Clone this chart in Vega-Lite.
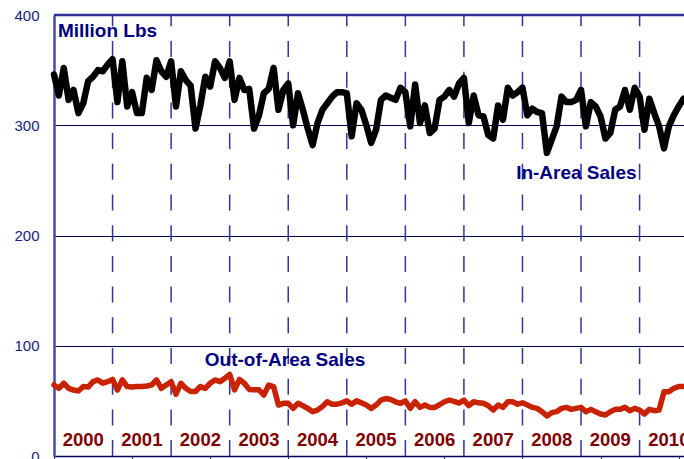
{
  "$schema": "https://vega.github.io/schema/vega-lite/v6.json",
  "autosize": {"type": "none"},
  "padding": {"left": 54, "top": 15, "right": 0, "bottom": 3},
  "width": 630,
  "height": 441,
  "background": "white",
  "config": {
    "view": {"stroke": null},
    "font": "Liberation Sans",
    "axisY": {
      "grid": true,
      "gridColor": "#000050",
      "gridWidth": 1.2,
      "domain": true,
      "domainColor": "#4a4aa8",
      "domainWidth": 2.5,
      "ticks": false,
      "labelPadding": 15,
      "labelFont": "Liberation Sans",
      "labelFontSize": 15,
      "labelColor": "#1a1a80",
      "title": null
    },
    "axisX": {
      "grid": false,
      "labels": false,
      "ticks": true,
      "tickSize": 4,
      "tickColor": "#333355",
      "tickWidth": 1,
      "domain": true,
      "domainColor": "#000060",
      "domainWidth": 1.5,
      "title": null
    }
  },
  "datasets": {
    "sales": [
      {"m":0,"inArea":346,"outArea":64.4},{"m":1,"inArea":327,"outArea":61.4},{"m":2,"inArea":352,"outArea":66},{"m":3,"inArea":323,"outArea":61.4},{"m":4,"inArea":332,"outArea":59.8},{"m":5,"inArea":311,"outArea":59},{"m":6,"inArea":320,"outArea":63},{"m":7,"inArea":340,"outArea":62.5},{"m":8,"inArea":344,"outArea":67.4},{"m":9,"inArea":350,"outArea":69},{"m":10,"inArea":349,"outArea":66},{"m":11,"inArea":355,"outArea":67.4},
      {"m":12,"inArea":360,"outArea":69.5},{"m":13,"inArea":321,"outArea":59.8},{"m":14,"inArea":358,"outArea":69},{"m":15,"inArea":317,"outArea":63},{"m":16,"inArea":330,"outArea":62.5},{"m":17,"inArea":311,"outArea":63},{"m":18,"inArea":311,"outArea":63},{"m":19,"inArea":343,"outArea":63.5},{"m":20,"inArea":332,"outArea":64.4},{"m":21,"inArea":359,"outArea":69},{"m":22,"inArea":349,"outArea":61.4},{"m":23,"inArea":344,"outArea":64.4},
      {"m":24,"inArea":358,"outArea":67.4},{"m":25,"inArea":317,"outArea":56},{"m":26,"inArea":349,"outArea":66},{"m":27,"inArea":341,"outArea":61.4},{"m":28,"inArea":336,"outArea":58.5},{"m":29,"inArea":297,"outArea":58.5},{"m":30,"inArea":318,"outArea":63},{"m":31,"inArea":344,"outArea":61.4},{"m":32,"inArea":335,"outArea":66},{"m":33,"inArea":358,"outArea":69},{"m":34,"inArea":352,"outArea":67.4},{"m":35,"inArea":343,"outArea":70.4},
      {"m":36,"inArea":358,"outArea":74},{"m":37,"inArea":323,"outArea":60},{"m":38,"inArea":343,"outArea":69.5},{"m":39,"inArea":332,"outArea":66},{"m":40,"inArea":333,"outArea":60.4},{"m":41,"inArea":297,"outArea":60},{"m":42,"inArea":309,"outArea":60},{"m":43,"inArea":329,"outArea":55.3},{"m":44,"inArea":333,"outArea":64.4},{"m":45,"inArea":352,"outArea":63},{"m":46,"inArea":314,"outArea":46.2},{"m":47,"inArea":332,"outArea":47.8},
      {"m":48,"inArea":338,"outArea":47.8},{"m":49,"inArea":300,"outArea":43.2},{"m":50,"inArea":329,"outArea":47.8},{"m":51,"inArea":314,"outArea":45.6},{"m":52,"inArea":297,"outArea":43.2},{"m":53,"inArea":282,"outArea":40.2},{"m":54,"inArea":302,"outArea":41.7},{"m":55,"inArea":314,"outArea":44.8},{"m":56,"inArea":320,"outArea":49.2},{"m":57,"inArea":326,"outArea":47},{"m":58,"inArea":330,"outArea":47},{"m":59,"inArea":330,"outArea":48.2},
      {"m":60,"inArea":329,"outArea":50},{"m":61,"inArea":290,"outArea":47},{"m":62,"inArea":320,"outArea":50},{"m":63,"inArea":314,"outArea":48.2},{"m":64,"inArea":300,"outArea":46.2},{"m":65,"inArea":284,"outArea":43.2},{"m":66,"inArea":296,"outArea":46.2},{"m":67,"inArea":323,"outArea":50.7},{"m":68,"inArea":327,"outArea":52.1},{"m":69,"inArea":325,"outArea":51.2},{"m":70,"inArea":323,"outArea":49.2},{"m":71,"inArea":334,"outArea":47.8},
      {"m":72,"inArea":330,"outArea":50},{"m":73,"inArea":299,"outArea":43.2},{"m":74,"inArea":337,"outArea":49.2},{"m":75,"inArea":302,"outArea":44.1},{"m":76,"inArea":318,"outArea":46.2},{"m":77,"inArea":293,"outArea":44.1},{"m":78,"inArea":297,"outArea":44.1},{"m":79,"inArea":323,"outArea":46.5},{"m":80,"inArea":326,"outArea":49.2},{"m":81,"inArea":332,"outArea":50.7},{"m":82,"inArea":326,"outArea":49.5},{"m":83,"inArea":338,"outArea":48},
      {"m":84,"inArea":343,"outArea":50.7},{"m":85,"inArea":302,"outArea":45.6},{"m":86,"inArea":327,"outArea":49.2},{"m":87,"inArea":309,"outArea":48.2},{"m":88,"inArea":308,"outArea":47.8},{"m":89,"inArea":291,"outArea":45.6},{"m":90,"inArea":288,"outArea":41.7},{"m":91,"inArea":318,"outArea":46.2},{"m":92,"inArea":305,"outArea":44.1},{"m":93,"inArea":334,"outArea":49.2},{"m":94,"inArea":327,"outArea":49.2},{"m":95,"inArea":330,"outArea":47},
      {"m":96,"inArea":334,"outArea":48.2},{"m":97,"inArea":309,"outArea":46.2},{"m":98,"inArea":315,"outArea":44.1},{"m":99,"inArea":312,"outArea":43.2},{"m":100,"inArea":311,"outArea":40.2},{"m":101,"inArea":275,"outArea":36.3},{"m":102,"inArea":287,"outArea":39.3},{"m":103,"inArea":299,"outArea":40.2},{"m":104,"inArea":326,"outArea":43.2},{"m":105,"inArea":321,"outArea":44.1},{"m":106,"inArea":321,"outArea":42.3},{"m":107,"inArea":323,"outArea":43.2},
      {"m":108,"inArea":332,"outArea":44.1},{"m":109,"inArea":299,"outArea":40.2},{"m":110,"inArea":321,"outArea":42.3},{"m":111,"inArea":317,"outArea":40.2},{"m":112,"inArea":308,"outArea":38.1},{"m":113,"inArea":288,"outArea":37.2},{"m":114,"inArea":293,"outArea":40.2},{"m":115,"inArea":314,"outArea":42.3},{"m":116,"inArea":317,"outArea":42.3},{"m":117,"inArea":332,"outArea":44.1},{"m":118,"inArea":314,"outArea":41.1},{"m":119,"inArea":334,"outArea":43.2},
      {"m":120,"inArea":326,"outArea":41.7},{"m":121,"inArea":296,"outArea":38.1},{"m":122,"inArea":324,"outArea":42.3},{"m":123,"inArea":311,"outArea":41.1},{"m":124,"inArea":299,"outArea":41.7},{"m":125,"inArea":279,"outArea":58.3},{"m":126,"inArea":299,"outArea":58.3},{"m":127,"inArea":309,"outArea":61.4},{"m":128,"inArea":317,"outArea":63},{"m":129,"inArea":324,"outArea":63}
    ],
    "yearLines": [{"m":12},{"m":24},{"m":36},{"m":48},{"m":60},{"m":72},{"m":84},{"m":96},{"m":108},{"m":120}],
    "years": [
      {"m":6,"label":"2000"},{"m":18,"label":"2001"},{"m":30,"label":"2002"},{"m":42,"label":"2003"},{"m":54,"label":"2004"},{"m":66,"label":"2005"},{"m":78,"label":"2006"},{"m":90,"label":"2007"},{"m":102,"label":"2008"},{"m":114,"label":"2009"},{"m":126,"label":"2010"}
    ],
    "notes": [
      {"m":0.8,"v":385.5,"label":"Million Lbs"},
      {"m":94.7,"v":256.5,"label":"In-Area Sales"},
      {"m":30.9,"v":87,"label":"Out-of-Area Sales"}
    ]
  },
  "layer": [
    {
      "data": {"name": "yearLines"},
      "mark": {"type": "rule", "color": "#33339f", "strokeWidth": 1.5, "strokeDash": [16, 14.7], "strokeDashOffset": 4.7},
      "encoding": {
        "x": {"field": "m", "type": "quantitative", "scale": {"domain": [0, 129.1], "nice": false, "zero": false}},
        "y": {"datum": 400, "type": "quantitative"},
        "y2": {"datum": 0}
      }
    },
    {
      "data": {"name": "sales"},
      "mark": {"type": "line", "color": "#000000", "strokeWidth": 6.5, "strokeJoin": "round", "strokeCap": "round"},
      "encoding": {
        "x": {"field": "m", "type": "quantitative", "scale": {"domain": [0, 129.1], "nice": false, "zero": false},
              "axis": {"values": [0,1,2,3,4,5,6,7,8,9,10,11,12,13,14,15,16,17,18,19,20,21,22,23,24,25,26,27,28,29,30,31,32,33,34,35,36,37,38,39,40,41,42,43,44,45,46,47,48,49,50,51,52,53,54,55,56,57,58,59,60,61,62,63,64,65,66,67,68,69,70,71,72,73,74,75,76,77,78,79,80,81,82,83,84,85,86,87,88,89,90,91,92,93,94,95,96,97,98,99,100,101,102,103,104,105,106,107,108,109,110,111,112,113,114,115,116,117,118,119,120,121,122,123,124,125,126,127,128,129]}},
        "y": {"field": "inArea", "type": "quantitative", "scale": {"domain": [0, 400], "nice": false},
              "axis": {"values": [0, 100, 200, 300, 400]}}
      }
    },
    {
      "data": {"name": "sales"},
      "mark": {"type": "line", "color": "#c82200", "strokeWidth": 5.5, "strokeJoin": "round", "strokeCap": "round"},
      "encoding": {
        "x": {"field": "m", "type": "quantitative"},
        "y": {"field": "outArea", "type": "quantitative"}
      }
    },
    {
      "data": {"values": [{"v": 400}]},
      "mark": {"type": "rule", "color": "#2e2e99", "strokeWidth": 2.5},
      "encoding": {"y": {"field": "v", "type": "quantitative"}}
    },
    {
      "data": {"name": "years"},
      "mark": {"type": "text", "font": "Liberation Sans", "fontSize": 18.5, "fontWeight": "bold", "color": "#800000", "align": "center", "baseline": "middle"},
      "encoding": {
        "x": {"field": "m", "type": "quantitative"},
        "y": {"datum": 14.5, "type": "quantitative"},
        "text": {"field": "label"}
      }
    },
    {
      "data": {"name": "notes"},
      "mark": {"type": "text", "font": "Liberation Sans", "fontSize": 19, "fontWeight": "bold", "color": "#000080", "align": "left", "baseline": "middle"},
      "encoding": {
        "x": {"field": "m", "type": "quantitative"},
        "y": {"field": "v", "type": "quantitative"},
        "text": {"field": "label"}
      }
    }
  ]
}
